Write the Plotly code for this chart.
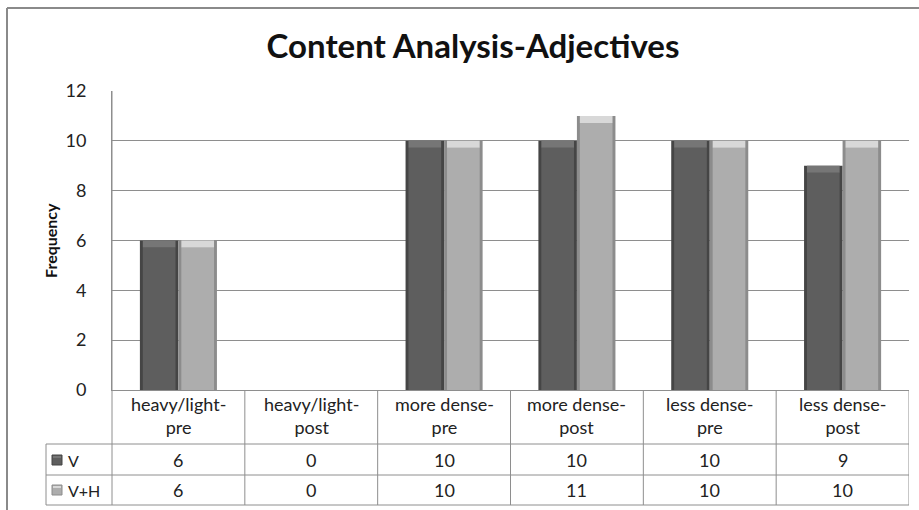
import plotly.graph_objects as go

# ---- data ----
categories = ["heavy/light-<br>pre", "heavy/light-<br>post", "more dense-<br>pre",
              "more dense-<br>post", "less dense-<br>pre", "less dense-<br>post"]
series_names = ["V", "V+H"]
v_values = [6, 0, 10, 10, 10, 9]
vh_values = [6, 0, 10, 11, 10, 10]
y_ticks = [0, 2, 4, 6, 8, 10, 12]

# ---- geometry / style ----
W, H = 919, 510
ML, MR, MT, MB = 112, 10, 91, 120
PW, PH = W - ML - MR, H - MT - MB
FONT = "Lato"
GRID = "#8e8e8e"


def px(xp):
    return (xp - ML) / PW


def py(yp):
    return (H - MB - yp) / PH


styles = {
    "V": dict(edge="#454545", face="#5e5e5e", cap="#767676", offset=-0.29),
    "V+H": dict(edge="#8c8c8c", face="#adadad", cap="#d8d8d8", offset=0.0),
}
BAR_W = 0.29
INSET = 0.022
CAP = 0.28

xs = list(range(len(categories)))
fig = go.Figure()

for name, vals in zip(series_names, [v_values, vh_values]):
    st = styles[name]
    # outer body (side bevels)
    fig.add_trace(go.Bar(x=xs, y=vals, width=[BAR_W] * len(xs), offset=st["offset"],
                         marker=dict(color=st["edge"], line=dict(width=0)),
                         name=name, showlegend=False, hoverinfo="skip"))
    # flat face
    face_h = [max(v - CAP, 0) for v in vals]
    fig.add_trace(go.Bar(x=xs, y=face_h, width=[BAR_W - 2 * INSET] * len(xs),
                         offset=st["offset"] + INSET,
                         marker=dict(color=st["face"], line=dict(width=0)),
                         showlegend=False, hoverinfo="skip"))
    # top bevel highlight
    cap_base = [max(v - CAP, 0) for v in vals]
    cap_h = [v - b for v, b in zip(vals, cap_base)]
    fig.add_trace(go.Bar(x=xs, y=cap_h, base=cap_base, width=[BAR_W - 2 * INSET] * len(xs),
                         offset=st["offset"] + INSET,
                         marker=dict(color=st["cap"], line=dict(width=0)),
                         showlegend=False, hoverinfo="skip"))

shapes = []
line = dict(color=GRID, width=1)

# chart frame
shapes.append(dict(type="line", xref="paper", yref="paper", x0=px(7), x1=px(7),
                   y0=py(8), y1=py(515), line=dict(color="#8a8a8a", width=2)))
shapes.append(dict(type="line", xref="paper", yref="paper", x0=px(7), x1=px(925),
                   y0=py(8), y1=py(8), line=dict(color="#8a8a8a", width=2)))

# data table grid
row_lines = [444, 475, 505]
for yl in row_lines:
    shapes.append(dict(type="line", xref="paper", yref="paper", x0=px(46), x1=1,
                       y0=py(yl), y1=py(yl), line=line))
shapes.append(dict(type="line", xref="paper", yref="paper", x0=px(46), x1=px(46),
                   y0=py(444), y1=py(505), line=line))
shapes.append(dict(type="line", xref="paper", yref="paper", x0=0, x1=0,
                   y0=1, y1=py(505), line=line))
for i in range(len(categories)):
    shapes.append(dict(type="line", xref="x", yref="paper", x0=i + 0.5, x1=i + 0.5,
                       y0=0, y1=py(505), line=line))

# legend keys in table
key_rows = [460, 490]
for name, yc in zip(series_names, key_rows):
    st = styles[name]
    shapes.append(dict(type="rect", xref="paper", yref="paper", x0=px(52), x1=px(62),
                       y0=py(yc + 5), y1=py(yc - 5),
                       fillcolor=st["face"], line=dict(color=st["edge"], width=1)))
    shapes.append(dict(type="rect", xref="paper", yref="paper", x0=px(53), x1=px(61),
                       y0=py(yc - 2), y1=py(yc - 4),
                       fillcolor=st["cap"], line=dict(width=0)))

annotations = []
for i, cat in enumerate(categories):
    annotations.append(dict(x=i, y=py(391), xref="x", yref="paper", text=cat,
                            showarrow=False, yanchor="top",
                            font=dict(family=FONT, size=18, color="#222")))
for vals, yc in zip([v_values, vh_values], key_rows):
    for i, v in enumerate(vals):
        annotations.append(dict(x=i, y=py(yc), xref="x", yref="paper", text=str(v),
                                showarrow=False, yanchor="middle",
                                font=dict(family=FONT, size=18, color="#222")))
for name, yc in zip(series_names, key_rows):
    annotations.append(dict(x=px(66), y=py(yc), xref="paper", yref="paper", text=name,
                            showarrow=False, xanchor="left", yanchor="middle",
                            font=dict(family=FONT, size=16, color="#222")))
annotations.append(dict(x=px(50), y=py(241), xref="paper", yref="paper", text="<b>Frequency</b>",
                        showarrow=False, textangle=-90, xanchor="center", yanchor="middle",
                        font=dict(family=FONT, size=16, color="#111")))

fig.update_layout(
    width=W, height=H,
    margin=dict(l=ML, r=MR, t=MT, b=MB),
    paper_bgcolor="white", plot_bgcolor="white",
    barmode="overlay",
    title=dict(text="<b>Content Analysis-Adjectives</b>", xref="container", x=473 / W,
               xanchor="center", yref="container", y=1 - 46 / H, yanchor="middle",
               font=dict(family=FONT, size=33, color="#111")),
    xaxis=dict(range=[-0.5, len(categories) - 0.5], showticklabels=False, showgrid=False,
               zeroline=False, showline=True, linecolor=GRID, linewidth=1, fixedrange=True),
    yaxis=dict(range=[0, 12], tickvals=y_ticks, showgrid=True, gridcolor=GRID, gridwidth=1,
               zeroline=False, showline=True, linecolor=GRID, linewidth=1,
               ticks="", ticklabelstandoff=21,
               tickfont=dict(family=FONT, size=18, color="#222")),
    shapes=shapes, annotations=annotations,
    showlegend=False,
)

fig.write_html("out.html")
